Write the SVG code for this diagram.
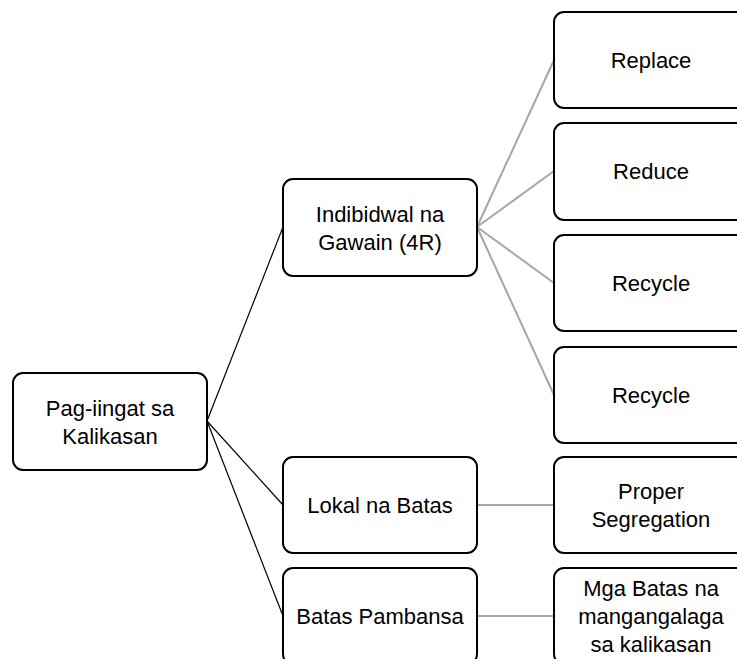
<svg xmlns="http://www.w3.org/2000/svg" width="737" height="659" viewBox="0 0 737 659">
<style>
.box{fill:#fff;stroke:#000;stroke-width:2}
.t{font-family:"Liberation Sans",Arial,sans-serif;font-size:22px;fill:#000;text-anchor:middle}
.blk{stroke:#000;stroke-width:1.2;fill:none}
.gry{stroke:#a6a6a6;stroke-width:2;fill:none}
</style>
<rect width="737" height="659" fill="#fff"/>
<g id="connectors">
<line class="blk" x1="207" y1="421" x2="283" y2="227"/>
<line class="blk" x1="207" y1="421" x2="283" y2="505"/>
<line class="blk" x1="207" y1="421" x2="283" y2="616"/>
<line class="gry" x1="477" y1="227" x2="554" y2="60"/>
<line class="gry" x1="477" y1="227" x2="554" y2="171"/>
<line class="gry" x1="477" y1="227" x2="554" y2="283"/>
<line class="gry" x1="477" y1="227" x2="554" y2="395"/>
<line class="gry" x1="477" y1="505" x2="554" y2="505"/>
<line class="gry" x1="477" y1="616" x2="554" y2="616"/>
</g>
<g id="root">
<rect class="box" x="13" y="373" width="194" height="97" rx="10"/>
<text class="t" x="110" y="416">Pag-iingat sa</text>
<text class="t" x="110" y="444">Kalikasan</text>
</g>
<g id="indibidwal">
<rect class="box" x="283" y="179" width="194" height="97" rx="10"/>
<text class="t" x="380" y="222">Indibidwal na</text>
<text class="t" x="380" y="250">Gawain (4R)</text>
</g>
<g id="lokal">
<rect class="box" x="283" y="457" width="194" height="96" rx="10"/>
<text class="t" x="380" y="513">Lokal na Batas</text>
</g>
<g id="pambansa">
<rect class="box" x="283" y="568" width="194" height="96" rx="10"/>
<text class="t" x="380" y="624">Batas Pambansa</text>
</g>
<g id="replace">
<rect class="box" x="554" y="12" width="194" height="96" rx="10"/>
<text class="t" x="651" y="68">Replace</text>
</g>
<g id="reduce">
<rect class="box" x="554" y="123" width="194" height="97" rx="10"/>
<text class="t" x="651" y="179">Reduce</text>
</g>
<g id="recycle1">
<rect class="box" x="554" y="235" width="194" height="96" rx="10"/>
<text class="t" x="651" y="291">Recycle</text>
</g>
<g id="recycle2">
<rect class="box" x="554" y="347" width="194" height="96" rx="10"/>
<text class="t" x="651" y="403">Recycle</text>
</g>
<g id="proper">
<rect class="box" x="554" y="457" width="194" height="96" rx="10"/>
<text class="t" x="651" y="499">Proper</text>
<text class="t" x="651" y="527">Segregation</text>
</g>
<g id="mgabatas">
<rect class="box" x="554" y="568" width="194" height="96" rx="10"/>
<text class="t" x="651" y="596">Mga Batas na</text>
<text class="t" x="651" y="624">mangangalaga</text>
<text class="t" x="651" y="652">sa kalikasan</text>
</g>
</svg>
